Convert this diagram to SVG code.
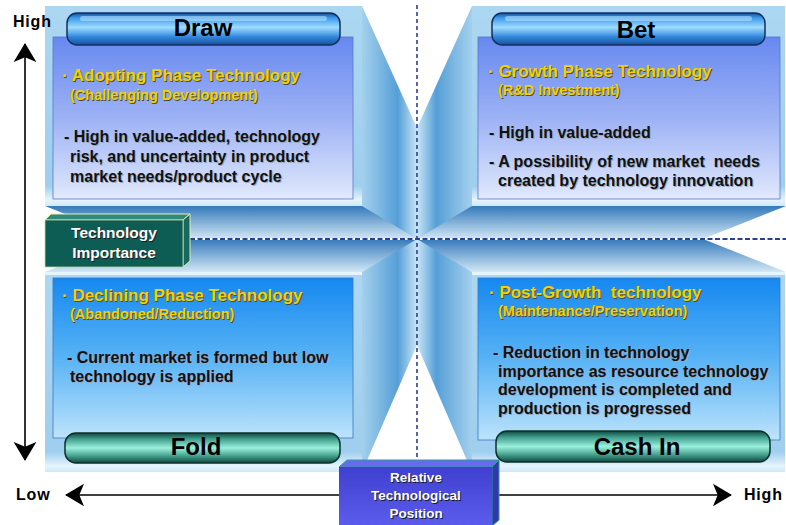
<svg xmlns="http://www.w3.org/2000/svg" width="786" height="525" viewBox="0 0 786 525">
<defs>
<linearGradient id="gFrame" x1="0" y1="0" x2="0" y2="1">
<stop offset="0" stop-color="#acd7f2"/><stop offset="0.9" stop-color="#9fcfee"/><stop offset="0.97" stop-color="#e6f4fc"/><stop offset="1" stop-color="#cfe8f7"/>
</linearGradient>
<linearGradient id="gPanTop" x1="0" y1="0" x2="0" y2="1">
<stop offset="0" stop-color="#6788ef"/><stop offset="0.5" stop-color="#9db2f5"/><stop offset="1" stop-color="#e1e9fc"/>
</linearGradient>
<linearGradient id="gPanBot" x1="0" y1="0" x2="0" y2="1">
<stop offset="0" stop-color="#1588f0"/><stop offset="0.5" stop-color="#58b3f5"/><stop offset="1" stop-color="#bde3fb"/>
</linearGradient>
<linearGradient id="gFaceL" x1="0" y1="0" x2="1" y2="0">
<stop offset="0" stop-color="#a4d0ed"/><stop offset="0.65" stop-color="#559fd7"/><stop offset="1" stop-color="#c9e5f6"/>
</linearGradient>
<linearGradient id="gFaceR" x1="0" y1="0" x2="1" y2="0">
<stop offset="0" stop-color="#c9e5f6"/><stop offset="0.35" stop-color="#559fd7"/><stop offset="1" stop-color="#a4d0ed"/>
</linearGradient>
<linearGradient id="gBand" x1="0" y1="0" x2="0" y2="1">
<stop offset="0" stop-color="#3479bb"/><stop offset="1" stop-color="#d3e8f5"/>
</linearGradient>
<linearGradient id="gBlue" x1="0" y1="0" x2="0" y2="1">
<stop offset="0" stop-color="#1a4f9a"/><stop offset="0.15" stop-color="#3a98ea"/><stop offset="0.45" stop-color="#9fdcff"/><stop offset="0.75" stop-color="#2f86dc"/><stop offset="1" stop-color="#1a4f9a"/>
</linearGradient>
<linearGradient id="gTeal" x1="0" y1="0" x2="0" y2="1">
<stop offset="0" stop-color="#12463f"/><stop offset="0.2" stop-color="#3f9e8c"/><stop offset="0.5" stop-color="#9bf0dc"/><stop offset="0.8" stop-color="#3b9482"/><stop offset="1" stop-color="#12463f"/>
</linearGradient>
<linearGradient id="gPurple" x1="0" y1="0" x2="0" y2="1">
<stop offset="0" stop-color="#3f3fd0"/><stop offset="1" stop-color="#5c5cee"/>
</linearGradient>
<marker id="arr" viewBox="0 0 20 24" refX="19" refY="12" markerWidth="19" markerHeight="25" markerUnits="userSpaceOnUse" orient="auto-start-reverse">
<path d="M0,0 L20,12 L0,24 L5,12 Z" fill="#000"/>
</marker>
</defs>
<style>
text{font-family:"Liberation Sans",Arial,sans-serif;font-weight:bold;white-space:pre}
.frame{fill:url(#gFrame)}
.panTop{fill:url(#gPanTop);stroke:#5a78c8;stroke-width:0.8}
.panBot{fill:url(#gPanBot);stroke:#3a78c0;stroke-width:0.8}
.pillB{fill:url(#gBlue);stroke:#10305e;stroke-width:1.5}
.pillT{fill:url(#gTeal);stroke:#0c302a;stroke-width:1.5}
.ptxt{font-size:24px;fill:#000;text-anchor:middle}
.hd{font-size:17px;fill:#f3d200;stroke:none}
.sub{font-size:14.5px;fill:#f3d200}
.sh{fill:#4a4a3a}
.bd{font-size:16px;fill:#111}
.bsh{fill:#98a8c0}
.ax{font-size:16px;fill:#000;letter-spacing:0.8px}
.wt{fill:#fff;text-anchor:middle}
.wsh{fill:#1a1a1a;text-anchor:middle}
</style>
<rect width="786" height="525" fill="#fff"/>
<g id="background">
<rect x="362" y="6" width="55" height="233" fill="url(#gFaceL)"/>
<rect x="417" y="6" width="55" height="233" fill="url(#gFaceR)"/>
<rect x="362" y="239" width="55" height="233" fill="url(#gFaceL)"/>
<rect x="417" y="239" width="55" height="233" fill="url(#gFaceR)"/>
<polygon points="45,206 362,206 417,239 45,239" fill="url(#gBand)"/>
<polygon points="472,206 786,206 786,239 417,239" fill="url(#gBand)"/>
<polygon points="45,239 417,239 362,272 45,272" fill="url(#gBand)"/>
<polygon points="417,239 786,239 786,272 472,272" fill="url(#gBand)"/>
<polygon points="362,6 472,6 417,128" fill="#fff"/>
<polygon points="362,472 472,472 417,345" fill="#fff"/>
<polygon points="786,206 786,272 703,239" fill="#fff"/>
<polygon points="45,206 45,272 128,239" fill="#fff"/>
<line x1="190" y1="239" x2="786" y2="239" stroke="#fff" stroke-width="2.2"/>
<line x1="190" y1="239" x2="786" y2="239" stroke="#2d3f94" stroke-width="2.2" stroke-dasharray="5,2.5"/>
<line x1="417" y1="5" x2="417" y2="462" stroke="#2d3f94" stroke-width="1.6" stroke-dasharray="4,3"/>
</g>
<g id="connectors" fill="none" stroke="#000" stroke-width="1.6">
<line x1="25" y1="44" x2="25" y2="460" marker-start="url(#arr)" marker-end="url(#arr)"/>
<line x1="66" y1="495" x2="731" y2="495" marker-start="url(#arr)" marker-end="url(#arr)"/>
</g>
<g id="q-draw">
<rect class="frame" x="45" y="6" width="317" height="200"/>
<rect class="panTop" x="53" y="37" width="300" height="162"/>
<rect class="pillB" x="67" y="13" width="273" height="32" rx="10"/>
<rect x="80" y="16" width="247" height="5" rx="2.5" fill="#c8ecff" opacity="0.5"/>
<text class="ptxt" x="203" y="36">Draw</text>
<text class="hd sh" x="63" y="82">· Adopting Phase Technology</text>
<text class="hd" x="62" y="81">· Adopting Phase Technology</text>
<text class="sub sh" x="71" y="101">(Challenging Development)</text>
<text class="sub" x="70" y="100">(Challenging Development)</text>
<text class="bd bsh" x="65" y="143">- High in value-added, technology</text>
<text class="bd bsh" x="71" y="163">risk, and uncertainty in product</text>
<text class="bd bsh" x="71" y="183">market needs/product cycle</text>
<text class="bd" x="64" y="142">- High in value-added, technology</text>
<text class="bd" x="70" y="162">risk, and uncertainty in product</text>
<text class="bd" x="70" y="182">market needs/product cycle</text>
</g>
<g id="q-bet">
<rect class="frame" x="472" y="6" width="313" height="200"/>
<rect class="panTop" x="478" y="37" width="302" height="162"/>
<rect class="pillB" x="492" y="13" width="273" height="32" rx="10"/>
<rect x="505" y="16" width="247" height="5" rx="2.5" fill="#c8ecff" opacity="0.5"/>
<text class="ptxt" x="636" y="38">Bet</text>
<text class="hd sh" x="489" y="78">· Growth Phase Technology</text>
<text class="hd" x="488" y="77">· Growth Phase Technology</text>
<text class="sub sh" x="499" y="96">(R&amp;D Investment)</text>
<text class="sub" x="498" y="95">(R&amp;D Investment)</text>
<text class="bd bsh" x="490" y="139">- High in value-added</text>
<text class="bd bsh" x="490" y="168">- A possibility of new market  needs</text>
<text class="bd bsh" x="499" y="187">created by technology innovation</text>
<text class="bd" x="489" y="138">- High in value-added</text>
<text class="bd" x="489" y="167">- A possibility of new market  needs</text>
<text class="bd" x="498" y="186">created by technology innovation</text>
</g>
<g id="q-fold">
<rect class="frame" x="45" y="272" width="317" height="200"/>
<rect x="45" y="272" width="317" height="3" fill="#e6f4fc"/>
<rect class="panBot" x="53" y="278" width="300" height="160"/>
<rect class="pillT" x="65" y="433" width="275" height="30" rx="11"/>
<text class="ptxt" x="196" y="455">Fold</text>
<text class="hd sh" x="63" y="302">· Declining Phase Technology</text>
<text class="hd" x="62" y="301">· Declining Phase Technology</text>
<text class="sub sh" x="71" y="320">(Abandoned/Reduction)</text>
<text class="sub" x="70" y="319">(Abandoned/Reduction)</text>
<text class="bd bsh" x="68" y="364">- Current market is formed but low</text>
<text class="bd bsh" x="71" y="383">technology is applied</text>
<text class="bd" x="67" y="363">- Current market is formed but low</text>
<text class="bd" x="70" y="382">technology is applied</text>
</g>
<g id="q-cashin">
<rect class="frame" x="472" y="272" width="313" height="200"/>
<rect x="472" y="272" width="313" height="3" fill="#e6f4fc"/>
<rect class="panBot" x="478" y="278" width="302" height="162"/>
<rect class="pillT" x="496" y="431" width="274" height="31" rx="11"/>
<text class="ptxt" x="637" y="455">Cash In</text>
<text class="hd sh" x="490" y="299">· Post-Growth  technology</text>
<text class="hd" x="489" y="298">· Post-Growth  technology</text>
<text class="sub sh" x="499" y="317">(Maintenance/Preservation)</text>
<text class="sub" x="498" y="316">(Maintenance/Preservation)</text>
<text class="bd bsh" x="494" y="359">- Reduction in technology</text>
<text class="bd bsh" x="499" y="378">importance as resource technology</text>
<text class="bd bsh" x="499" y="396">development is completed and</text>
<text class="bd bsh" x="499" y="415">production is progressed</text>
<text class="bd" x="493" y="358">- Reduction in technology</text>
<text class="bd" x="498" y="377">importance as resource technology</text>
<text class="bd" x="498" y="395">development is completed and</text>
<text class="bd" x="498" y="414">production is progressed</text>
</g>
<g id="tech-importance">
<polygon points="45,220 51,214 190,214 183,220" fill="#2f8a7c" stroke="#e4eeb0" stroke-width="1"/>
<polygon points="183,220 190,214 190,261 183,267" fill="#17695f" stroke="#e4eeb0" stroke-width="1"/>
<rect x="45" y="220" width="138" height="47" fill="#0e5d55" stroke="#b8d8a0" stroke-width="0.8"/>
<text class="wsh" x="115" y="239" font-size="15.5">Technology</text>
<text class="wt" x="114" y="238" font-size="15.5">Technology</text>
<text class="wsh" x="115" y="259" font-size="15.5">Importance</text>
<text class="wt" x="114" y="258" font-size="15.5">Importance</text>
</g>
<g id="relative-position">
<polygon points="339,467 347,460 499,460 492,467" fill="#6a6af0" stroke="#2a9a9a" stroke-width="1"/>
<polygon points="492,467 499,460 499,520 492,526" fill="#3535b0" stroke="#2a9a9a" stroke-width="1"/>
<rect x="339" y="467" width="153" height="60" fill="url(#gPurple)"/>
<text class="wsh" x="417" y="483" font-size="13.5">Relative</text>
<text class="wt" x="416" y="482" font-size="13.5">Relative</text>
<text class="wsh" x="417" y="501" font-size="13.5">Technological</text>
<text class="wt" x="416" y="500" font-size="13.5">Technological</text>
<text class="wsh" x="417" y="519" font-size="13.5">Position</text>
<text class="wt" x="416" y="518" font-size="13.5">Position</text>
</g>
<g id="axis-labels">
<text class="ax" x="13" y="27">High</text>
<text class="ax" x="16" y="500">Low</text>
<text class="ax" x="744" y="500">High</text>
</g>
</svg>
